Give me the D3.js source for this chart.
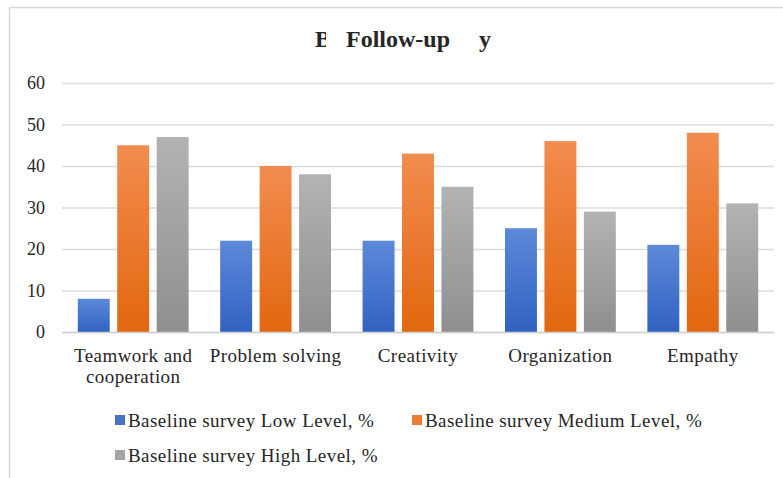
<!DOCTYPE html>
<html>
<head>
<meta charset="utf-8">
<script src="https://cdn.jsdelivr.net/npm/d3@7"></script>
<style>
  html, body { margin: 0; padding: 0; background: #fff; }
  svg { display: block; }
  text { font-family: "Liberation Serif", "Times New Roman", serif; fill: #262626; }
</style>
</head>
<body>
<svg id="chart" width="783" height="478"></svg>
<script>
// Skill categories and survey levels (percent of respondents)
const categories = ["Teamwork and cooperation", "Problem solving", "Creativity", "Organization", "Empathy"];
const categoryLines = [["Teamwork and", "cooperation"], ["Problem solving"], ["Creativity"], ["Organization"], ["Empathy"]];
const seriesNames = ["Baseline survey Low Level, %", "Baseline survey Medium Level, %", "Baseline survey High Level, %"];
const lowLevel = [8, 22, 22, 25, 21];
const mediumLevel = [45, 40, 43, 46, 48];
const highLevel = [47, 38, 35, 29, 31];
const yTicks = [0, 10, 20, 30, 40, 50, 60];

const seriesValues = [lowLevel, mediumLevel, highLevel];
const seriesColors = [
  { top: "#5d89d9", bottom: "#3162c1", flat: "#4472c4" },
  { top: "#f28c4f", bottom: "#e2670f", flat: "#ed7d31" },
  { top: "#b3b3b3", bottom: "#8f8f8f", flat: "#a5a5a5" }
];

const svg = d3.select("#chart");
const plot = { left: 62, right: 774, top: 83, bottom: 332 };

// Outer chart frame
svg.append("rect")
  .attr("x", 9.5).attr("y", 7.5)
  .attr("width", 800).attr("height", 500)
  .attr("fill", "#fff")
  .attr("stroke", "#d9d9d9").attr("stroke-width", 1.5);

// Gradients for the bar fills
const defs = svg.append("defs");
seriesColors.forEach((c, i) => {
  const g = defs.append("linearGradient")
    .attr("id", "grad" + i)
    .attr("x1", 0).attr("y1", 0).attr("x2", 0).attr("y2", 1);
  g.append("stop").attr("offset", "0%").attr("stop-color", c.top);
  g.append("stop").attr("offset", "100%").attr("stop-color", c.bottom);
});

const x0 = d3.scaleBand().domain(categories).range([plot.left, plot.right]).padding(0);
const x1 = d3.scaleBand().domain(d3.range(seriesNames.length))
  .range([0, x0.bandwidth()]).paddingInner(0.19).paddingOuter(0.4);
const y = d3.scaleLinear().domain([0, 60]).range([plot.bottom, plot.top]);

// Horizontal gridlines and value labels
const yAxis = d3.axisLeft(y).tickValues(yTicks).tickSize(-(plot.right - plot.left)).tickPadding(17);
const gy = svg.append("g").attr("transform", `translate(${plot.left},0)`).call(yAxis);
gy.select(".domain").remove();
gy.selectAll(".tick line").attr("stroke", "#dcdcdc").attr("stroke-width", 1.3);
gy.selectAll(".tick text")
  .attr("font-family", "Liberation Serif, serif")
  .attr("font-size", 18).attr("fill", "#262626");

// Bars
const groups = svg.append("g").selectAll("g")
  .data(categories)
  .join("g")
  .attr("transform", d => `translate(${x0(d)},0)`);

groups.selectAll("rect")
  .data((d, ci) => seriesValues.map((vals, si) => ({ si, v: vals[ci] })))
  .join("rect")
  .attr("x", d => x1(d.si))
  .attr("width", x1.bandwidth())
  .attr("y", d => y(d.v))
  .attr("height", d => y(0) - y(d.v))
  .attr("fill", d => `url(#grad${d.si})`);

// Baseline axis
const xAxis = d3.axisBottom(x0).tickSize(0).tickFormat("");
const gx = svg.append("g").attr("transform", `translate(0,${plot.bottom})`).call(xAxis);
gx.select(".domain").attr("stroke", "#d0d0d0").attr("stroke-width", 1.3);

// Category labels (wrapped)
categories.forEach((c, i) => {
  const t = svg.append("text")
    .attr("x", x0(c) + x0.bandwidth() / 2)
    .attr("y", 362)
    .attr("text-anchor", "middle")
    .attr("font-size", 19)
    .attr("letter-spacing", 0.45);
  categoryLines[i].forEach((line, li) => {
    t.append("tspan")
      .attr("x", x0(c) + x0.bandwidth() / 2)
      .attr("dy", li === 0 ? 0 : 21)
      .text(line);
  });
});

// Legend
const legendPos = [[115, 415], [412, 415], [115, 450]];
seriesNames.forEach((name, i) => {
  const [lx, ly] = legendPos[i];
  svg.append("rect")
    .attr("x", lx).attr("y", ly).attr("width", 10).attr("height", 10)
    .attr("fill", seriesColors[i].flat);
  svg.append("text")
    .attr("x", lx + 13).attr("y", ly + 12)
    .attr("font-size", 19)
    .attr("letter-spacing", 0.45)
    .text(name);
});

// Title: "Follow-up" laid over the original heading
const clip = defs.append("clipPath").attr("id", "titleClip");
clip.append("rect").attr("x", 300).attr("y", 20).attr("width", 26).attr("height", 40);
svg.append("text")
  .attr("x", 315).attr("y", 47)
  .attr("font-size", 24).attr("font-weight", "bold")
  .attr("fill", "#000")
  .attr("clip-path", "url(#titleClip)")
  .text("B");
svg.append("text")
  .attr("x", 398).attr("y", 47)
  .attr("text-anchor", "middle")
  .attr("font-size", 24).attr("font-weight", "bold")
  .attr("fill", "#000")
  .text("Follow-up");
svg.append("text")
  .attr("x", 479).attr("y", 47)
  .attr("font-size", 24).attr("font-weight", "bold")
  .attr("fill", "#000")
  .text("y");
</script>
</body>
</html>
